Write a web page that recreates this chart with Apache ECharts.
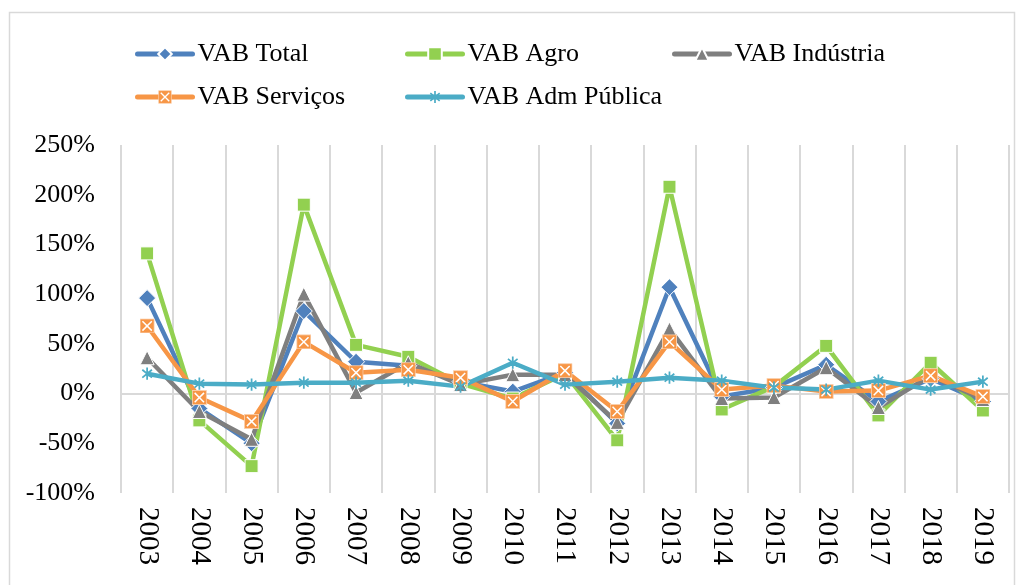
<!DOCTYPE html>
<html>
<head>
<meta charset="utf-8">
<script src="https://cdn.jsdelivr.net/npm/echarts@6/dist/echarts.min.js"></script>
<style>
  html, body { margin: 0; padding: 0; background: #fff; }
  #chart { width: 1025px; height: 585px; }
</style>
</head>
<body>
<div id="chart"></div>
<script>
// dados (%)
var anos = ['2003','2004','2005','2006','2007','2008','2009','2010','2011','2012','2013','2014','2015','2016','2017','2018','2019'];
var vabTotal     = [96, -15, -50, 83, 32, 28, 12, 2, 21, -30, 107, -3, 6, 29, -8, 15, -8];
var vabAgro      = [141, -27, -73, 190, 49, 37, 10, -5, 20, -47, 208, -16, 7, 48, -22, 31, -17];
var vabIndustria = [36, -18, -46, 100, 1, 31, 9, 19, 19, -29, 65, -5, -4, 26, -14, 18, -6];
var vabServicos  = [68, -4, -28, 52, 21, 24, 16, -8, 23, -18, 52, 4, 8, 2, 3, 18, -3];
var vabAdm       = [20, 10, 9, 11, 11, 13, 7, 31, 9, 12, 16, 13, 6, 4, 13, 4, 12];
var nomes = ['VAB Total', 'VAB Agro', 'VAB Indústria', 'VAB Serviços', 'VAB Adm Pública'];
var yTicks = { min: -100, max: 250, interval: 50 };

var fonte = "'Liberation Serif', 'Times New Roman', serif";

function svgImg(svg) {
  return 'image://data:image/svg+xml;charset=utf-8,' + encodeURIComponent(svg);
}
// marcador quadrado laranja com X branco
var simboloServ = svgImg("<svg xmlns='http://www.w3.org/2000/svg' width='16' height='16'>" +
  "<rect x='0.5' y='0.5' width='15' height='15' fill='#f79646' stroke='#fbd0ad' stroke-width='1'/>" +
  "<path d='M3 3L13 13M13 3L3 13' stroke='#ffffff' stroke-width='1.6'/></svg>");
// marcador asterisco azul
var simboloAdm = svgImg("<svg xmlns='http://www.w3.org/2000/svg' width='16' height='16'>" +
  "<path d='M8 1V15M2.5 3.5L13.5 12.5M13.5 3.5L2.5 12.5' stroke='#4bacc6' stroke-width='2'/></svg>");

function serie(nome, dados, cor, simbolo, tam) {
  return {
    name: nome,
    type: 'line',
    data: dados,
    symbol: simbolo,
    symbolSize: tam,
    showAllSymbol: true,
    lineStyle: { color: cor, width: 4.5 },
    itemStyle: { color: cor, borderColor: '#ffffff', borderWidth: 1, opacity: 1 },
    emphasis: { disabled: true }
  };
}

var chart = echarts.init(document.getElementById('chart'));

var legendaBase = {
  orient: 'vertical',
  itemWidth: 55,
  itemHeight: 17,
  itemGap: 17,
  lineStyle: { width: 5, cap: 'round' },
  textStyle: { fontFamily: fonte, fontSize: 26, color: '#000' },
  selectedMode: false
};

var option = {
  animation: false,
  textStyle: { fontFamily: fonte },
  graphic: [{
    type: 'rect',
    shape: { x: 9.5, y: 12.5, width: 1005, height: 600 },
    style: { fill: 'none', stroke: '#d9d9d9', lineWidth: 1.5 },
    silent: true
  }],
  legend: [
    Object.assign({ left: 130, top: 36, data: [nomes[0], nomes[3]] }, legendaBase),
    Object.assign({ left: 400, top: 36, data: [nomes[1], nomes[4]] }, legendaBase),
    Object.assign({ left: 667, top: 36, data: [nomes[2]] }, legendaBase)
  ],
  grid: { left: 121, right: 16, top: 145, bottom: 92, containLabel: false },
  xAxis: [{
    type: 'category',
    data: anos,
    boundaryGap: true,
    axisLine: { show: false, onZero: false },
    axisTick: { show: false },
    splitLine: { show: true, interval: 0, lineStyle: { color: '#d9d9d9', width: 2 } },
    axisLabel: {
      interval: 0,
      rotate: -90,
      margin: 14,
      color: '#000',
      fontFamily: fonte,
      fontSize: 29
    }
  }, {
    type: 'category',
    data: anos,
    position: 'bottom',
    axisLine: { show: true, onZero: true, lineStyle: { color: '#d9d9d9', width: 2 } },
    axisTick: { show: false },
    axisLabel: { show: false },
    splitLine: { show: false }
  }],
  yAxis: {
    type: 'value',
    min: yTicks.min,
    max: yTicks.max,
    interval: yTicks.interval,
    axisLine: { show: false },
    axisTick: { show: false },
    splitLine: { show: false },
    axisLabel: {
      formatter: '{value}%',
      margin: 26,
      color: '#000',
      fontFamily: fonte,
      fontSize: 26
    }
  },
  series: [
    serie(nomes[0], vabTotal, '#4f81bd', 'diamond', [17, 17]),
    serie(nomes[1], vabAgro, '#92d050', 'rect', 13),
    serie(nomes[2], vabIndustria, '#7f7f7f', 'triangle', 14),
    serie(nomes[3], vabServicos, '#f79646', simboloServ, 15),
    serie(nomes[4], vabAdm, '#4bacc6', simboloAdm, 14)
  ]
};

chart.setOption(option);
</script>
</body>
</html>
